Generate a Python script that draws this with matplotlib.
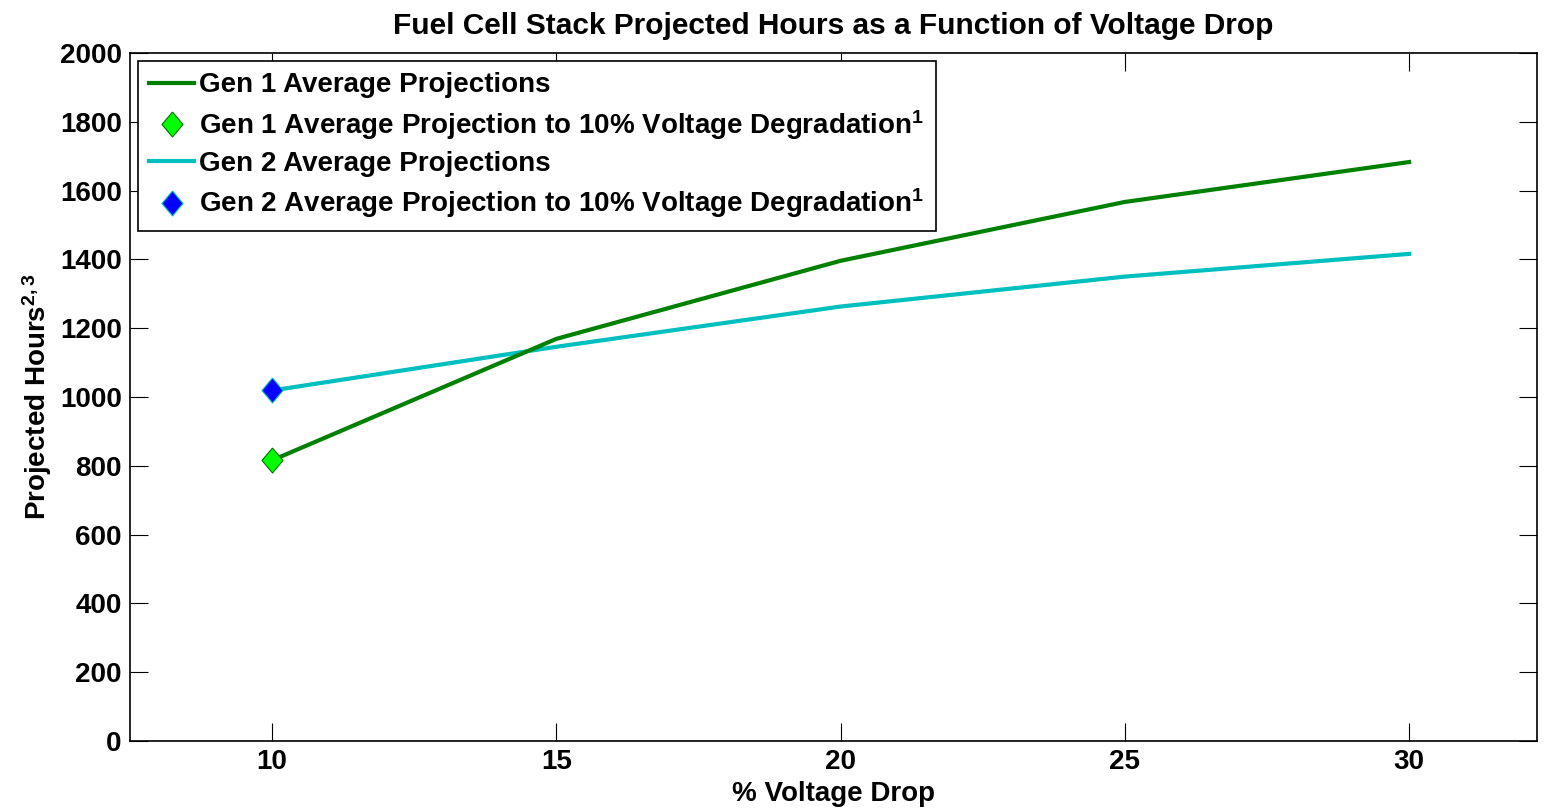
import numpy as np
import matplotlib
matplotlib.use('Agg')
import matplotlib.pyplot as plt

# dane
voltage_drop = [10, 15, 20, 25, 30]
gen1_hours = [816, 1169, 1396, 1567, 1683]
gen2_hours = [1019, 1146, 1263, 1350, 1416]
gen1_point = 816
gen2_point = 1019
y_ticks = [0, 200, 400, 600, 800, 1000, 1200, 1400, 1600, 1800, 2000]
x_ticks = [10, 15, 20, 25, 30]

plt.rcParams['font.family'] = ['Liberation Sans', 'DejaVu Sans']
plt.rcParams['font.weight'] = 'bold'
plt.rcParams['mathtext.fontset'] = 'custom'
plt.rcParams['mathtext.rm'] = 'Liberation Sans:bold'
plt.rcParams['mathtext.bf'] = 'Liberation Sans:bold'
plt.rcParams['mathtext.default'] = 'bf'

diamond = [(0, 1), (0.84, 0), (0, -1), (-0.84, 0), (0, 1)]

fig = plt.figure(figsize=(15.5, 8.11), dpi=100)
ax = fig.add_axes([130 / 1550, 70 / 811, 1407 / 1550, 688 / 811])

ax.plot(voltage_drop, gen1_hours, color='#008000', linewidth=3,
        label='Gen 1 Average Projections')
ax.plot(voltage_drop[0], gen1_point, linestyle='none', marker=diamond,
        markersize=18, markerfacecolor='#00FF00', markeredgecolor='#007000',
        markeredgewidth=0.8,
        label='Gen 1 Average Projection to 10% Voltage Degradation$^1$')
ax.plot(voltage_drop, gen2_hours, color='#00BFBF', linewidth=3,
        label='Gen 2 Average Projections')
ax.plot(voltage_drop[0], gen2_point, linestyle='none', marker=diamond,
        markersize=18, markerfacecolor='#0000FF', markeredgecolor='#00BFBF',
        markeredgewidth=0.8,
        label='Gen 2 Average Projection to 10% Voltage Degradation$^1$')

# zielona linia nad niebieska, markery na wierzchu
ax.lines[0].set_zorder(3)
ax.lines[1].set_zorder(5)
ax.lines[3].set_zorder(5)

ax.set_xlim(7.5, 32.25)
ax.set_ylim(0, 2000)
ax.set_xticks(x_ticks)
ax.set_yticks(y_ticks)
ax.tick_params(direction='in', length=13, width=0.8, labelsize=20,
               top=True, right=True, pad=6)
for s in ax.spines.values():
    s.set_linewidth(1.2)

ax.set_title('Fuel Cell Stack Projected Hours as a Function of Voltage Drop',
             fontsize=21.5, fontweight='bold', pad=14)
ax.set_xlabel('% Voltage Drop', fontsize=20, fontweight='bold', labelpad=4)
ax.set_ylabel('Projected Hours$^{2,3}$', fontsize=20, fontweight='bold', labelpad=4)

leg = ax.legend(loc='upper left', fontsize=20, frameon=True, fancybox=False,
                edgecolor='black', framealpha=1, handlelength=1.6,
                handletextpad=0.2, labelspacing=0.34, borderaxespad=0.3,
                borderpad=0.4, bbox_to_anchor=(0.0, 1.0))
leg.get_frame().set_linewidth(1.2)
for t in leg.get_texts():
    t.set_fontweight('bold')

fig.savefig('out.png', dpi=100)
